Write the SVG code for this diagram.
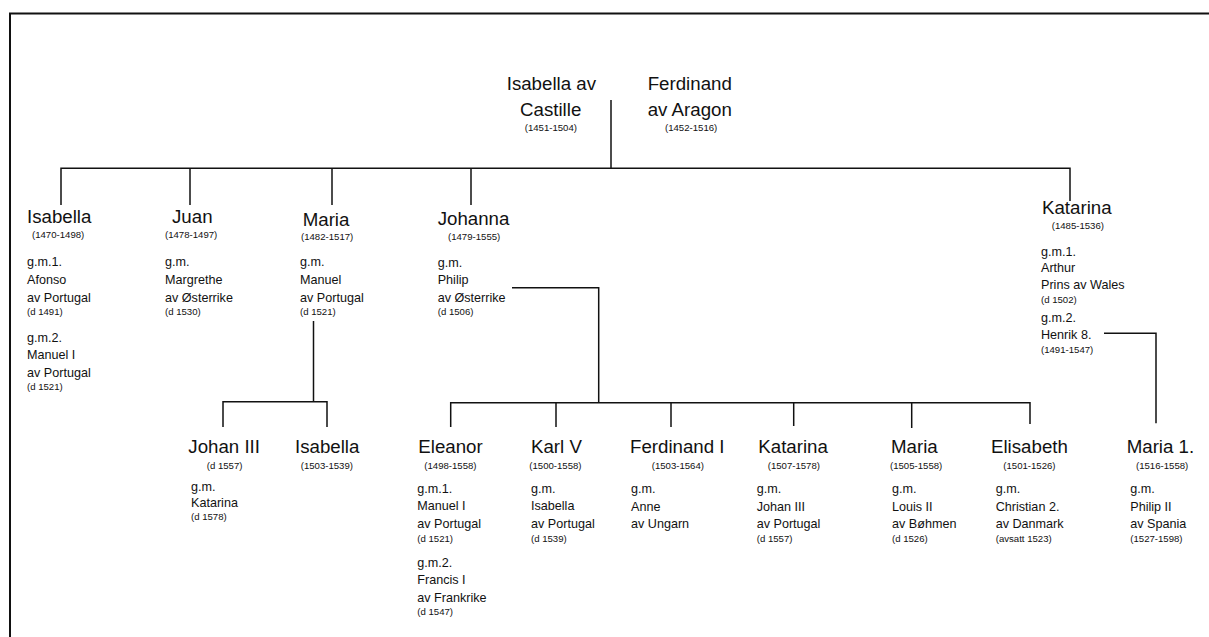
<svg xmlns="http://www.w3.org/2000/svg" width="1209" height="637" viewBox="0 0 1209 637">
<style>
text{font-family:"Liberation Sans",Arial,sans-serif;fill:#111}
.nm{font-size:18.7px}
.dt{font-size:9.6px}
.bd{font-size:12.6px}
.ln{fill:none;stroke:#111;stroke-width:1.5}
.fr{fill:none;stroke:#111;stroke-width:2}
</style>
<rect width="1209" height="637" fill="#fff"/>
<path class="fr" d="M10,637 V13.5 H1209"/>
<g id="connectors">
<path class="ln" d="M611,100 V168.3"/>
<path class="ln" d="M61,205 V168.3 H1070 V201"/>
<path class="ln" d="M190,168.3 V205"/>
<path class="ln" d="M332,168.3 V205"/>
<path class="ln" d="M471,168.3 V205"/>
<path class="ln" d="M313.5,321 V401.7"/>
<path class="ln" d="M223,427 V401.7 H327 V427"/>
<path class="ln" d="M512,287.7 H598.7 V402.7"/>
<path class="ln" d="M450.7,427 V402.7 H1030 V424"/>
<path class="ln" d="M556,402.7 V427"/>
<path class="ln" d="M671,402.7 V427"/>
<path class="ln" d="M793.7,402.7 V426"/>
<path class="ln" d="M911.7,402.7 V428"/>
<path class="ln" d="M1104,333.3 H1156 V423.3"/>
</g>
<g id="isabella-castille">
<text class="nm" x="506.7" y="90">Isabella av</text>
<text class="nm" x="520" y="115.7">Castille</text>
<text class="dt" x="524.7" y="131">(1451-1504)</text>
</g>
<g id="ferdinand-aragon">
<text class="nm" x="647.7" y="90">Ferdinand</text>
<text class="nm" x="647.7" y="115.7">av Aragon</text>
<text class="dt" x="665" y="131">(1452-1516)</text>
</g>
<g id="isabella">
<text class="nm" x="27" y="223.3">Isabella</text>
<text class="dt" x="32" y="238.3">(1470-1498)</text>
<text class="bd" x="27" y="266">g.m.1.</text>
<text class="bd" x="27" y="284">Afonso</text>
<text class="bd" x="27" y="301.5">av Portugal</text>
<text class="dt" x="27" y="315">(d 1491)</text>
<text class="bd" x="27" y="341.5">g.m.2.</text>
<text class="bd" x="27" y="359">Manuel I</text>
<text class="bd" x="27" y="376.5">av Portugal</text>
<text class="dt" x="27" y="390">(d 1521)</text>
</g>
<g id="juan">
<text class="nm" x="172" y="223.3">Juan</text>
<text class="dt" x="165" y="238.3">(1478-1497)</text>
<text class="bd" x="165" y="266">g.m.</text>
<text class="bd" x="165" y="284">Margrethe</text>
<text class="bd" x="165" y="301.5">av Østerrike</text>
<text class="dt" x="165" y="315">(d 1530)</text>
</g>
<g id="maria">
<text class="nm" x="302.7" y="225.7">Maria</text>
<text class="dt" x="301" y="240">(1482-1517)</text>
<text class="bd" x="300" y="266">g.m.</text>
<text class="bd" x="300" y="284">Manuel</text>
<text class="bd" x="300" y="301.5">av Portugal</text>
<text class="dt" x="300" y="315">(d 1521)</text>
</g>
<g id="johanna">
<text class="nm" x="437.7" y="225">Johanna</text>
<text class="dt" x="448" y="240.3">(1479-1555)</text>
<text class="bd" x="437.7" y="266.5">g.m.</text>
<text class="bd" x="437.7" y="284">Philip</text>
<text class="bd" x="437.7" y="301.7">av Østerrike</text>
<text class="dt" x="437.7" y="315">(d 1506)</text>
</g>
<g id="katarina">
<text class="nm" x="1042" y="214">Katarina</text>
<text class="dt" x="1051.7" y="229">(1485-1536)</text>
<text class="bd" x="1041" y="256">g.m.1.</text>
<text class="bd" x="1041" y="272.3">Arthur</text>
<text class="bd" x="1041" y="289.3">Prins av Wales</text>
<text class="dt" x="1041" y="302.7">(d 1502)</text>
<text class="bd" x="1041" y="321.7">g.m.2.</text>
<text class="bd" x="1041" y="339">Henrik 8.</text>
<text class="dt" x="1041" y="352.7">(1491-1547)</text>
</g>
<g id="johan-iii">
<text class="nm" x="188.3" y="453">Johan III</text>
<text class="dt" x="206.7" y="469">(d 1557)</text>
<text class="bd" x="191" y="491">g.m.</text>
<text class="bd" x="191" y="506.7">Katarina</text>
<text class="dt" x="191" y="520">(d 1578)</text>
</g>
<g id="isabella-2">
<text class="nm" x="295" y="453">Isabella</text>
<text class="dt" x="300.7" y="469">(1503-1539)</text>
</g>
<g id="eleanor">
<text class="nm" x="418.3" y="453">Eleanor</text>
<text class="dt" x="424.3" y="468.5">(1498-1558)</text>
<text class="bd" x="417.3" y="493.3">g.m.1.</text>
<text class="bd" x="417.3" y="510">Manuel I</text>
<text class="bd" x="417.3" y="527.7">av Portugal</text>
<text class="dt" x="417.3" y="541.7">(d 1521)</text>
<text class="bd" x="417.3" y="567">g.m.2.</text>
<text class="bd" x="417.3" y="584">Francis I</text>
<text class="bd" x="417.3" y="601.7">av Frankrike</text>
<text class="dt" x="417.3" y="615">(d 1547)</text>
</g>
<g id="karl-v">
<text class="nm" x="531" y="453">Karl V</text>
<text class="dt" x="529.3" y="468.5">(1500-1558)</text>
<text class="bd" x="531" y="493.3">g.m.</text>
<text class="bd" x="531" y="510">Isabella</text>
<text class="bd" x="531" y="527.7">av Portugal</text>
<text class="dt" x="531" y="541.7">(d 1539)</text>
</g>
<g id="ferdinand-i">
<text class="nm" x="630" y="453">Ferdinand I</text>
<text class="dt" x="651.7" y="468.5">(1503-1564)</text>
<text class="bd" x="631" y="493.3">g.m.</text>
<text class="bd" x="631" y="510.5">Anne</text>
<text class="bd" x="631" y="527.7">av Ungarn</text>
</g>
<g id="katarina-2">
<text class="nm" x="758.3" y="453">Katarina</text>
<text class="dt" x="767.7" y="468.5">(1507-1578)</text>
<text class="bd" x="756.7" y="493.3">g.m.</text>
<text class="bd" x="756.7" y="510.5">Johan III</text>
<text class="bd" x="756.7" y="527.7">av Portugal</text>
<text class="dt" x="756.7" y="541.7">(d 1557)</text>
</g>
<g id="maria-2">
<text class="nm" x="891" y="453">Maria</text>
<text class="dt" x="890" y="468.5">(1505-1558)</text>
<text class="bd" x="892" y="493.3">g.m.</text>
<text class="bd" x="892" y="510.5">Louis II</text>
<text class="bd" x="892" y="527.7">av Bøhmen</text>
<text class="dt" x="892" y="541.7">(d 1526)</text>
</g>
<g id="elisabeth">
<text class="nm" x="991" y="453">Elisabeth</text>
<text class="dt" x="1003.3" y="468.5">(1501-1526)</text>
<text class="bd" x="995.7" y="493.3">g.m.</text>
<text class="bd" x="995.7" y="510.5">Christian 2.</text>
<text class="bd" x="995.7" y="527.7">av Danmark</text>
<text class="dt" x="995.7" y="541.7">(avsatt 1523)</text>
</g>
<g id="maria-1">
<text class="nm" x="1126.7" y="453">Maria 1.</text>
<text class="dt" x="1136" y="468.5">(1516-1558)</text>
<text class="bd" x="1130.3" y="493.3">g.m.</text>
<text class="bd" x="1130.3" y="510.5">Philip II</text>
<text class="bd" x="1130.3" y="527.7">av Spania</text>
<text class="dt" x="1130.3" y="541.7">(1527-1598)</text>
</g>
</svg>
